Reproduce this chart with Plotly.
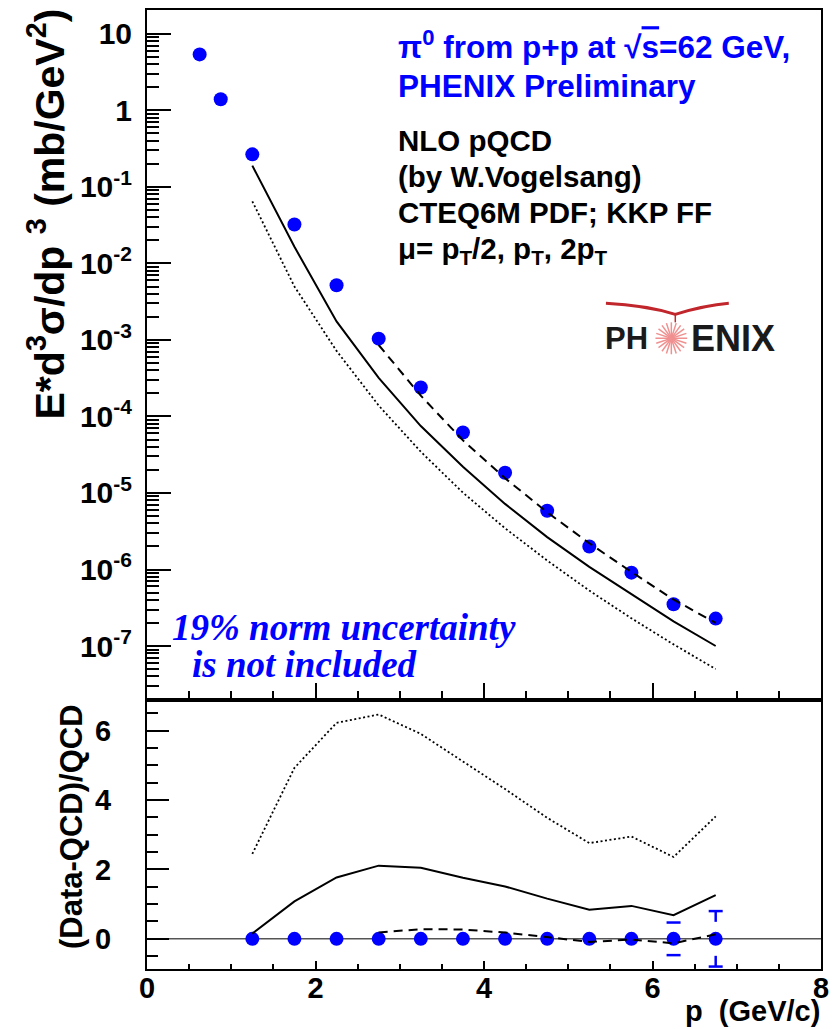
import numpy as np
import plotly.graph_objects as go

# ---------------- data ----------------
pt_data = [0.625, 0.875, 1.25, 1.75, 2.25, 2.75, 3.25, 3.75, 4.25, 4.75, 5.25, 5.75, 6.25, 6.75]
xsec_data = [5.4, 1.40, 0.267, 0.0323, 5.2e-3, 1.04e-3, 2.39e-4, 6.18e-5, 1.84e-5,
             5.87e-6, 2.0e-6, 9.1e-7, 3.52e-7, 2.28e-7]

pt_qcd = [1.25, 1.75, 2.25, 2.75, 3.25, 3.75, 4.25, 4.75, 5.25, 5.75, 6.25, 6.75]
qcd_mu_pt = [0.19, 0.0165, 1.75e-3, 3.2e-4, 7.5e-5, 2.2e-5, 7.2e-6, 2.65e-6, 1.08e-6, 4.7e-7, 2.1e-7, 1.0e-7]
qcd_mu_2pt = [0.065, 5.0e-3, 7.2e-4, 1.39e-4, 3.46e-5, 1.01e-5, 3.46e-6, 1.31e-6, 5.3e-7, 2.3e-7, 1.05e-7, 5.0e-8]
pt_qcd_half = [2.75, 3.25, 3.75, 4.25, 4.75, 5.25, 5.75, 6.25, 6.75]
qcd_mu_half = [8.6e-4, 1.87e-4, 4.87e-5, 1.56e-5, 5.6e-6, 2.2e-6, 9.3e-7, 4.05e-7, 2.0e-7]

pt_ratio = [1.25, 1.75, 2.25, 2.75, 3.25, 3.75, 4.25, 4.75, 5.25, 5.75, 6.25, 6.75]
ratio_data = [0.0, 0.0, 0.0, 0.0, 0.0, 0.0, 0.0, 0.0, 0.0, 0.0, 0.0, 0.0]
ratio_err = [0.0, 0.0, 0.0, 0.0, 0.0, 0.0, 0.0, 0.0, 0.0, 0.0, 0.47, 0.80]
ratio_mu_pt = [0.15, 1.08, 1.77, 2.11, 2.05, 1.76, 1.51, 1.16, 0.84, 0.95, 0.68, 1.26]
ratio_mu_2pt = [2.45, 4.93, 6.23, 6.47, 5.91, 5.11, 4.32, 3.49, 2.76, 2.95, 2.36, 3.53]
pt_ratio_half = [2.75, 3.25, 3.75, 4.25, 4.75, 5.25, 5.75, 6.25, 6.75]
ratio_mu_half = [0.18, 0.28, 0.27, 0.18, 0.05, -0.09, -0.02, -0.13, 0.13]

ytick_vals = [1e-7, 1e-6, 1e-5, 1e-4, 1e-3, 1e-2, 1e-1, 1, 10]
ytick_text = ["10<sup>-7</sup>", "10<sup>-6</sup>", "10<sup>-5</sup>", "10<sup>-4</sup>",
              "10<sup>-3</sup>", "10<sup>-2</sup>", "10<sup>-1</sup>", "1", "10"]

# ---------------- geometry helpers ----------------
W, H = 837, 1029
L, R, T, B = 147, 10, 8, 60
PW, PH = W - L - R, H - T - B


def px(x):
    return (x - L) / PW


def py(y):
    return (H - B - y) / PH


split = py(699)

BLUE = "#0000ff"
FONT = "Liberation Sans"
SERIF = "Liberation Serif"

fig = go.Figure()

# ---------------- top panel ----------------
fig.add_trace(go.Scatter(x=pt_data, y=xsec_data, mode="markers", xaxis="x2", yaxis="y2",
                         marker=dict(size=14, color=BLUE, line=dict(width=0))))
fig.add_trace(go.Scatter(x=pt_qcd, y=qcd_mu_pt, mode="lines", xaxis="x2", yaxis="y2",
                         line=dict(color="black", width=2)))
fig.add_trace(go.Scatter(x=pt_qcd_half, y=qcd_mu_half, mode="lines", xaxis="x2", yaxis="y2",
                         line=dict(color="black", width=2, dash="9px,6px")))
fig.add_trace(go.Scatter(x=pt_qcd, y=qcd_mu_2pt, mode="lines", xaxis="x2", yaxis="y2",
                         line=dict(color="black", width=1.8, dash="2px,2.5px")))

# ---------------- bottom panel ----------------
fig.add_trace(go.Scatter(x=pt_ratio, y=ratio_data, mode="markers", xaxis="x", yaxis="y",
                         marker=dict(size=14, color=BLUE, line=dict(width=0))))

# error bars (ROOT style: caps, stems only beyond the marker gap)
gap = 0.49
cap_x, cap_y, stem_x, stem_y = [], [], [], []
for xv, yv, ev in zip(pt_ratio, ratio_data, ratio_err):
    if ev > 0.25:
        cap_x += [xv, xv]
        cap_y += [yv + ev, yv - ev]
        if ev > gap:
            stem_x += [xv, xv, None, xv, xv, None]
            stem_y += [yv + ev, yv + gap, None, yv - ev, yv - gap, None]
fig.add_trace(go.Scatter(x=cap_x, y=cap_y, mode="markers", xaxis="x", yaxis="y",
                         marker=dict(symbol="line-ew", size=10, line=dict(color=BLUE, width=2.5))))
fig.add_trace(go.Scatter(x=stem_x, y=stem_y, mode="lines", xaxis="x", yaxis="y",
                         line=dict(color=BLUE, width=2.5)))

fig.add_trace(go.Scatter(x=pt_ratio, y=ratio_mu_pt, mode="lines", xaxis="x", yaxis="y",
                         line=dict(color="black", width=2)))
fig.add_trace(go.Scatter(x=pt_ratio_half, y=ratio_mu_half, mode="lines", xaxis="x", yaxis="y",
                         line=dict(color="black", width=2, dash="9px,6px")))
fig.add_trace(go.Scatter(x=pt_ratio, y=ratio_mu_2pt, mode="lines", xaxis="x", yaxis="y",
                         line=dict(color="black", width=1.8, dash="2px,2.5px")))

# zero reference line
shapes = [dict(type="line", xref="x domain", yref="y", x0=0, x1=1, y0=0, y1=0,
               line=dict(color="#555555", width=1.5), layer="below")]

# ---------------- axes ----------------
minor_log = [k * 10.0 ** d for d in range(-8, 2) for k in range(2, 10)]
tickfont_top = dict(family=FONT, size=30, color="black", weight="bold")
tickfont_bot = dict(family=FONT, size=29, color="black", weight="bold")

fig.update_layout(
    width=W, height=H,
    margin=dict(l=L, r=R, t=T, b=B, pad=0),
    paper_bgcolor="white", plot_bgcolor="white",
    showlegend=False,
    xaxis=dict(domain=[0, 1], anchor="y", range=[0, 8], dtick=2, tick0=0,
               ticks="inside", ticklen=8, tickwidth=1.5, tickcolor="black",
               minor=dict(dtick=0.5, tick0=0, ticks="inside", ticklen=5, tickwidth=1.5, tickcolor="black"),
               showline=True, linewidth=2, linecolor="black", mirror=True,
               showgrid=False, zeroline=False, tickfont=tickfont_bot, ticklabelstandoff=-8),
    yaxis=dict(domain=[0, split], anchor="x", range=[-0.87, 6.90], dtick=2, tick0=0,
               ticks="inside", ticklen=22, tickwidth=1.5, tickcolor="black",
               minor=dict(dtick=0.5, tick0=0, ticks="inside", ticklen=11, tickwidth=1.5, tickcolor="black"),
               showline=True, linewidth=2, linecolor="black", mirror=True,
               showgrid=False, zeroline=False, tickfont=tickfont_bot, ticklabelstandoff=28),
    xaxis2=dict(domain=[0, 1], anchor="y2", range=[0, 8], dtick=2, tick0=0,
                ticks="inside", ticklen=17, tickwidth=1.5, tickcolor="black",
                minor=dict(dtick=0.5, tick0=0, ticks="inside", ticklen=9, tickwidth=1.5, tickcolor="black"),
                showline=True, linewidth=2, linecolor="black", mirror=True,
                showgrid=False, zeroline=False, showticklabels=False),
    yaxis2=dict(domain=[split, 1], anchor="x2", type="log", range=[-7.70, 1.313],
                tickmode="array", tickvals=ytick_vals, ticktext=ytick_text,
                ticks="inside", ticklen=24, tickwidth=1.5, tickcolor="black",
                minor=dict(tickmode="array", tickvals=minor_log, ticks="inside", ticklen=12,
                           tickwidth=1.5, tickcolor="black"),
                showline=True, linewidth=2, linecolor="black", mirror=True,
                showgrid=False, zeroline=False, tickfont=tickfont_top, ticklabelstandoff=7),
)

# ---------------- text ----------------
ann = []


def text(x, y, s, size, color="black", family=FONT, weight="bold", style="normal",
         xanchor="left", yanchor="middle", angle=0):
    ann.append(dict(x=px(x), y=py(y), xref="paper", yref="paper", text=s, showarrow=False,
                    xanchor=xanchor, yanchor=yanchor, textangle=angle,
                    font=dict(family=family, size=size, color=color, weight=weight, style=style)))


text(45, 212, "E*d<sup>3</sup>σ/dp <sup>3</sup> (mb/GeV<sup>2</sup>)", 41, xanchor="center", angle=-90)
text(71, 826, "(Data-QCD)/QCD", 31, xanchor="center", angle=-90)
text(828, 1011, "p  (GeV/c)", 29, xanchor="right")

text(398, 43, "π<sup>0</sup> from p+p at √<span style='text-decoration:overline'>s</span>=62 GeV,", 31.5, color=BLUE)
text(398, 84, "PHENIX Preliminary", 31.5, color=BLUE)
text(398, 139, "NLO pQCD", 29.5)
text(398, 175, "(by W.Vogelsang)", 29.5)
text(398, 211, "CTEQ6M PDF; KKP FF", 29.5)
text(398, 249, "μ= p<sub>T</sub>/2, p<sub>T</sub>, 2p<sub>T</sub>", 29.5)

text(170, 627, "19% norm uncertainty", 37, color=BLUE, family=SERIF, style="italic")
text(190, 664, "is not included", 37, color=BLUE, family=SERIF, style="italic")

# PHENIX logo (drawn)
text(607, 337, "PH", 31, color="#1a1a1a", xanchor="left")
text(694, 337, "ENIX", 36, color="#1a1a1a")
cx, cy, rr = 676, 337, 16
for a in np.linspace(0, np.pi, 10, endpoint=False):
    shapes.append(dict(type="line", xref="paper", yref="paper",
                       x0=px(cx - rr * np.cos(a)), y0=py(cy - rr * np.sin(a)),
                       x1=px(cx + rr * np.cos(a)), y1=py(cy + rr * np.sin(a)),
                       line=dict(color="#f09090", width=1.5)))
sw = "M {:.4f},{:.4f} Q {:.4f},{:.4f} {:.4f},{:.4f} Q {:.4f},{:.4f} {:.4f},{:.4f}".format(
    px(610), py(302), px(650), py(304), px(680), py(313),
    px(710), py(304), px(734), py(302))
shapes.append(dict(type="path", xref="paper", yref="paper", path=sw,
                   line=dict(color="#c0262b", width=3)))
shapes.append(dict(type="line", xref="paper", yref="paper", x0=px(680), x1=px(680),
                   y0=py(313), y1=py(321), line=dict(color="#c0262b", width=1.5)))

fig.update_layout(annotations=ann, shapes=shapes)

fig.write_html("out.html", config={"displayModeBar": False},
               post_script="document.body.style.margin='0';")
